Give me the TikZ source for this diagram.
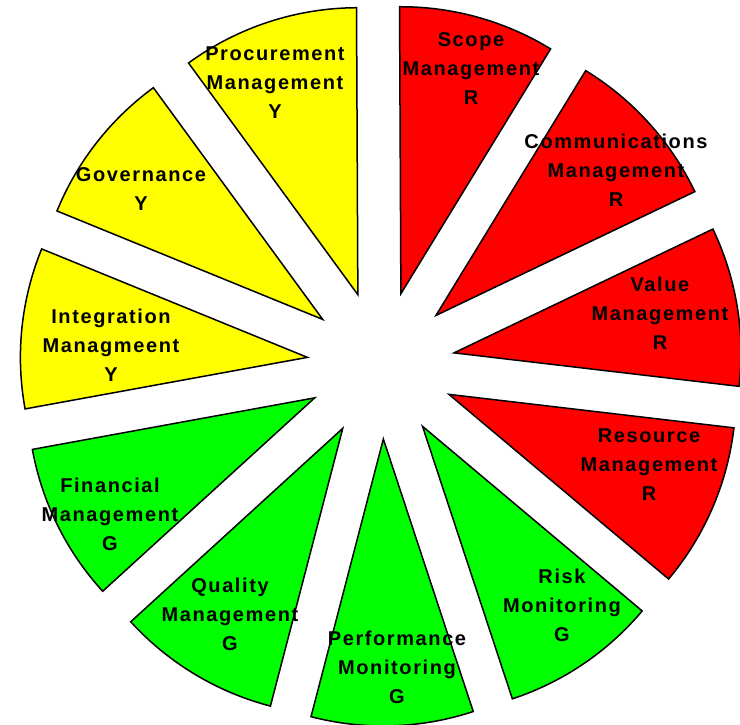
\documentclass[tikz,border=0pt]{standalone}
\usepackage{fontspec}
\newfontfamily\lblfont{Liberation Sans}[LetterSpace=8]
\definecolor{slicered}{RGB}{255,0,0}
\definecolor{sliceyellow}{RGB}{255,255,0}
\definecolor{slicegreen}{RGB}{0,255,0}
\tikzset{
  slice/.style={draw=black, line width=1.5pt, line join=miter},
  lbl/.style={font=\lblfont\bfseries\fontsize{20}{29}\selectfont, align=center, text=black, inner sep=0pt},
}
% exploded pie slice: start angle, end angle, fill colour, name
\newcommand\pieslice[4]{%
  \pgfmathsetmacro\bis{(#1+#2)/2}%
  \path[slice, fill=#3] (\bis:74) coordinate (#4) -- ++(#1:287)
    arc[start angle=#1, end angle=#2, radius=287] -- cycle;
}
\begin{document}
\begin{tikzpicture}[x=1pt,y=1pt]
\useasboundingbox (0,0) rectangle (740,-725);
\clip (0,0) rectangle (740,-725);
\begin{scope}[shift={(381,-365)}]
  \pieslice{90.27}{58.55}{slicered}{scopeS}
  \pieslice{58.55}{25.56}{slicered}{commS}
  \pieslice{25.56}{-6.7}{slicered}{valueS}
  \pieslice{-6.7}{-40.05}{slicered}{resourceS}
  \pieslice{-40.05}{-71.75}{slicegreen}{riskS}
  \pieslice{-71.75}{-104.6}{slicegreen}{perfS}
  \pieslice{-104.6}{-137.63}{slicegreen}{qualityS}
  \pieslice{-137.63}{-169.65}{slicegreen}{financialS}
  \pieslice{-169.65}{-202.2}{sliceyellow}{integrationS}
  \pieslice{-202.2}{-233.84}{sliceyellow}{governanceS}
  \pieslice{-233.84}{-269.73}{sliceyellow}{procurementS}
\end{scope}
\node[lbl] (scope) at (471,-69) {Scope\\Management\\R};
\node[lbl] (comm) at (616,-170) {Communications\\Management\\R};
\node[lbl] (value) at (660,-313) {Value\\Management\\R};
\node[lbl] (resource) at (649,-465) {Resource\\Management\\R};
\node[lbl] (risk) at (562,-605) {Risk\\Monitoring\\G};
\node[lbl] (perf) at (397,-667) {Performance\\Monitoring\\G};
\node[lbl] (quality) at (230,-614) {Quality\\Management\\G};
\node[lbl] (financial) at (110,-514) {Financial\\Management\\G};
\node[lbl] (integration) at (111,-345) {Integration\\Managmeent\\Y};
\node[lbl] (governance) at (141,-189) {Governance\\Y};
\node[lbl] (procurement) at (275,-83) {Procurement\\Management\\Y};
\end{tikzpicture}
\end{document}
